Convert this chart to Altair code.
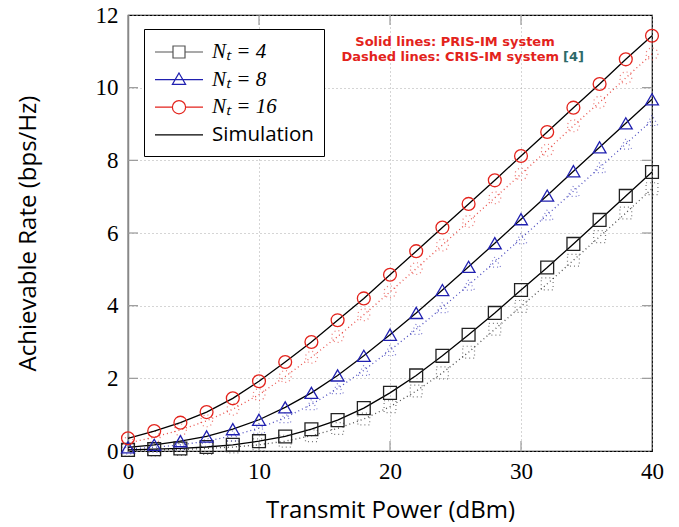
import altair as alt
import pandas as pd

# ---- data ----
power_dbm = [0, 2, 4, 6, 8, 10, 12, 14, 16, 18, 20, 22, 24, 26, 28, 30, 32, 34, 36, 38, 40]

pris_nt4 = [0.03, 0.05, 0.07, 0.11, 0.17, 0.27, 0.40, 0.60, 0.85, 1.18, 1.60, 2.08, 2.62, 3.20, 3.80, 4.43, 5.05, 5.70, 6.36, 7.02, 7.68]
pris_nt8 = [0.10, 0.17, 0.27, 0.40, 0.60, 0.86, 1.20, 1.60, 2.08, 2.62, 3.20, 3.80, 4.43, 5.07, 5.72, 6.38, 7.03, 7.70, 8.36, 9.02, 9.68]
pris_nt16 = [0.35, 0.55, 0.78, 1.07, 1.45, 1.92, 2.45, 3.00, 3.60, 4.20, 4.85, 5.50, 6.15, 6.80, 7.45, 8.12, 8.78, 9.45, 10.10, 10.78, 11.43]

cris_nt4 = [0.02, 0.03, 0.04, 0.07, 0.11, 0.17, 0.27, 0.42, 0.62, 0.88, 1.22, 1.65, 2.15, 2.72, 3.35, 3.98, 4.60, 5.25, 5.90, 6.55, 7.22]
cris_nt8 = [0.06, 0.10, 0.17, 0.27, 0.42, 0.63, 0.92, 1.28, 1.72, 2.22, 2.77, 3.35, 3.95, 4.57, 5.20, 5.85, 6.50, 7.15, 7.80, 8.45, 9.10]
cris_nt16 = [0.22, 0.38, 0.58, 0.83, 1.15, 1.55, 2.05, 2.58, 3.15, 3.75, 4.38, 5.02, 5.67, 6.32, 6.97, 7.62, 8.28, 8.95, 9.60, 10.27, 10.93]

series_names = ["Nt4", "Nt8", "Nt16"]
series_colors = ["#222222", "#2020b0", "#e3231c"]
series_shapes = ["square", "triangle-up", "circle"]

legend_labels = ["N\u209c = 4", "N\u209c = 8", "N\u209c = 16", "Simulation"]
legend_colors = ["#555555", "#2020b0", "#e3231c", "#000000"]
# symbol box is 24 px (-1..1 = 24 px); paths reach x = 3 so the line is 48 px long
legend_paths = [
    "M-1,0H0.5M1.5,0H3M0.5,-0.5H1.5V0.5H0.5Z",
    "M-1,0H3M1,-0.55L1.55,0.4H0.45Z",
    "M-1,0H0.45M1.55,0H3M1.55,0A0.55,0.55 0 1 1 0.45,0A0.55,0.55 0 1 1 1.55,0Z",
    "M-1,0H3",
]

x_ticks = [0, 10, 20, 30, 40]
y_ticks = [0, 2, 4, 6, 8, 10, 12]
x_inner_ticks = [10, 20, 30]
y_inner_ticks = [2, 4, 6, 8, 10]

rows_pris = []
rows_cris = []
for name, p, c in zip(series_names, [pris_nt4, pris_nt8, pris_nt16], [cris_nt4, cris_nt8, cris_nt16]):
    for xv, pv, cv in zip(power_dbm, p, c):
        rows_pris.append({"x": xv, "rate": pv, "Nt": name})
        rows_cris.append({"x": xv, "rate": cv, "Nt": name})
df_pris = pd.DataFrame(rows_pris)
df_cris = pd.DataFrame(rows_cris)
df_leg = pd.DataFrame({"leg": legend_labels})

xs = alt.Scale(domain=[0, 40], nice=False)
ys = alt.Scale(domain=[0, 12], nice=False)
x_enc = alt.X("x:Q", scale=xs, axis=alt.Axis(values=x_ticks, title="Transmit Power (dBm)"))
y_enc = alt.Y("rate:Q", scale=ys, axis=alt.Axis(values=y_ticks, title="Achievable Rate (bps/Hz)"))

col_scale = alt.Scale(domain=series_names, range=series_colors)
shp_scale = alt.Scale(domain=series_names, range=series_shapes)

# inner tick marks (pgfplots style)
tick_col = "#999999"
tx = pd.DataFrame({"x": x_inner_ticks})
ty = pd.DataFrame({"rate": y_inner_ticks})
ticks_bottom = alt.Chart(tx).mark_rule(color=tick_col, strokeWidth=1.2).encode(
    x=alt.X("x:Q", scale=xs), y=alt.value(436), y2=alt.value(426))
ticks_top = alt.Chart(tx).mark_rule(color=tick_col, strokeWidth=1.2).encode(
    x=alt.X("x:Q", scale=xs), y=alt.value(0), y2=alt.value(10))
ticks_left = alt.Chart(ty).mark_rule(color=tick_col, strokeWidth=1.2).encode(
    y=alt.Y("rate:Q", scale=ys), x=alt.value(0), x2=alt.value(10))
ticks_right = alt.Chart(ty).mark_rule(color=tick_col, strokeWidth=1.2).encode(
    y=alt.Y("rate:Q", scale=ys), x=alt.value(524), x2=alt.value(514))

cris_line = alt.Chart(df_cris).mark_line(strokeWidth=1.3, strokeDash=[1, 3], opacity=0.8).encode(
    x=x_enc, y=y_enc, color=alt.Color("Nt:N", scale=col_scale, legend=None))

cris_pts = alt.Chart(df_cris).mark_point(size=140, strokeWidth=1.2, strokeDash=[1, 3], filled=False, opacity=0.6).encode(
    x=x_enc, y=y_enc,
    color=alt.Color("Nt:N", scale=col_scale, legend=None),
    shape=alt.Shape("Nt:N", scale=shp_scale, legend=None))

pris_line = alt.Chart(df_pris).mark_line(strokeWidth=1.3, color="black").encode(
    x=x_enc, y=y_enc, detail="Nt:N")

pris_pts = alt.Chart(df_pris).mark_point(size=165, strokeWidth=1.3, filled=False, opacity=1).encode(
    x=x_enc, y=y_enc,
    color=alt.Color("Nt:N", scale=col_scale, legend=None),
    shape=alt.Shape("Nt:N", scale=shp_scale, legend=None))

legend_layer = alt.Chart(df_leg).mark_point(filled=False, strokeWidth=1.2, opacity=1).transform_filter(
    "datum.leg == 'none'").encode(
    color=alt.Color("leg:N", scale=alt.Scale(domain=legend_labels, range=legend_colors),
                    legend=alt.Legend(title=None, orient="none", legendX=16, legendY=14,
                                      fillColor="white", strokeColor="black", padding=10,
                                      symbolSize=576, symbolStrokeWidth=1.2,
                                      labelOffset=32, rowPadding=4.6,
                                      labelFontSize={"expr": "datum.label == 'Simulation' ? 20.5 : 21"},
                                      labelFont={"expr": "datum.label == 'Simulation' ? 'Open Sans' : 'Liberation Serif'"},
                                      labelFontStyle={"expr": "datum.label == 'Simulation' ? 'normal' : 'italic'"},
                                      labelColor="black")),
    shape=alt.Shape("leg:N", scale=alt.Scale(domain=legend_labels, range=legend_paths)))

note_font = "DejaVu Sans"
note_size = 13
note1 = alt.Chart(pd.DataFrame({"t": ["Solid lines: PRIS-IM system"]})).mark_text(
    font=note_font, fontWeight="bold", fontSize=note_size, color="#e3231c", align="center", baseline="middle").encode(
    text="t:N", x=alt.value(327), y=alt.value(26.5))
note2 = alt.Chart(pd.DataFrame({"t": ["Dashed lines: CRIS-IM system"]})).mark_text(
    font=note_font, fontWeight="bold", fontSize=note_size, color="#e3231c", align="right", baseline="middle").encode(
    text="t:N", x=alt.value(431), y=alt.value(42))
note3 = alt.Chart(pd.DataFrame({"t": ["[4]"]})).mark_text(
    font=note_font, fontWeight="bold", fontSize=note_size, color="#2e6a6a", align="left", baseline="middle").encode(
    text="t:N", x=alt.value(435), y=alt.value(42))

chart = alt.layer(ticks_bottom, ticks_top, ticks_left, ticks_right,
                  cris_line, cris_pts, pris_line, pris_pts, legend_layer, note1, note2, note3).resolve_scale(
    color="independent", shape="independent"
).properties(
    width=524, height=436,
    autosize=alt.AutoSizeParams(type="none"),
    padding={"left": 128, "top": 15, "right": 27, "bottom": 76},
    background="white",
).configure_view(
    stroke="black", strokeWidth=1.2
).configure_axis(
    labelFont="Liberation Serif", labelFontSize=23, labelColor="black", labelFlush=False,
    titleFont="Open Sans", titleFontWeight="normal", titleColor="black", titleFontSize=24,
    ticks=False, domain=False,
    grid=True, gridColor="#aaaaaa", gridDash=[1, 3], gridWidth=1,
).configure_axisX(
    labelPadding=9, titleY=59, titleBaseline="middle",
).configure_axisY(
    labelPadding=10, titleX=-100, titleBaseline="middle", titleAngle=-90,
    domain=True, domainColor="#888888", domainWidth=1.5,
)

chart.save("out.html", embed_options={"renderer": "svg", "actions": False})
